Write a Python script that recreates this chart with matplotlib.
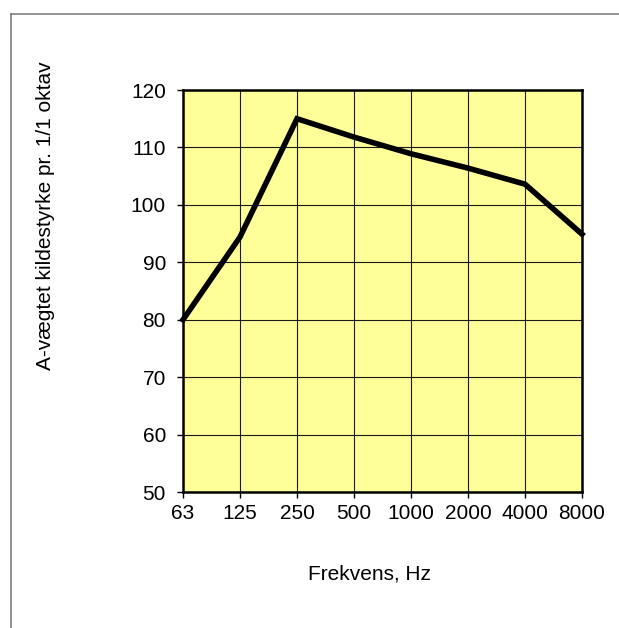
import matplotlib
matplotlib.use("Agg")
import matplotlib.pyplot as plt
from matplotlib.lines import Line2D

categories = ["63", "125", "250", "500", "1000", "2000", "4000", "8000"]
values = [80.0, 94.4, 115.0, 111.8, 108.9, 106.4, 103.6, 94.9]
yticks = [50, 60, 70, 80, 90, 100, 110, 120]

plt.rcParams['font.family'] = ['Liberation Sans', 'DejaVu Sans']

W, H = 619, 628
fig = plt.figure(figsize=(W / 100, H / 100), dpi=100)
fig.patch.set_facecolor('white')

# outer frame (top and left grey lines)
fig.add_artist(Line2D([11 / W, 11 / W], [0, 1 - 14 / H], transform=fig.transFigure,
                      color='#7f7f7f', lw=1.2))
fig.add_artist(Line2D([11 / W, 1], [1 - 14 / H, 1 - 14 / H], transform=fig.transFigure,
                      color='#7f7f7f', lw=1.2))

left, right, top, bottom = 183, 582, 90, 492
ax = fig.add_axes([left / W, 1 - bottom / H, (right - left) / W, (bottom - top) / H])
ax.set_facecolor('#FFFF99')

x = list(range(len(categories)))
ax.plot(x, values, color='black', lw=4.0, solid_joinstyle='miter', clip_on=False, zorder=5)

ax.set_xlim(0, len(categories) - 1)
ax.set_ylim(50, 120)
ax.set_xticks(x)
ax.set_xticklabels(categories)
ax.set_yticks(yticks)
ax.grid(True, color='#1a1a1a', lw=0.8)
ax.set_axisbelow(True)
for s in ax.spines.values():
    s.set_linewidth(1.8)
    s.set_color('black')
ax.tick_params(axis='both', direction='out', length=4.3, width=1, labelsize=15,
               colors='black')
ax.tick_params(axis='y', pad=8)
ax.tick_params(axis='x', pad=4)

fig.text(369 / W, 1 - 574 / H, 'Frekvens, Hz', ha='center', va='center', fontsize=15)
fig.text(46 / W, 1 - 216 / H, 'A-vægtet kildestyrke pr. 1/1 oktav', ha='center', va='center',
         rotation=90, fontsize=15)

fig.savefig('out.png', dpi=100)
